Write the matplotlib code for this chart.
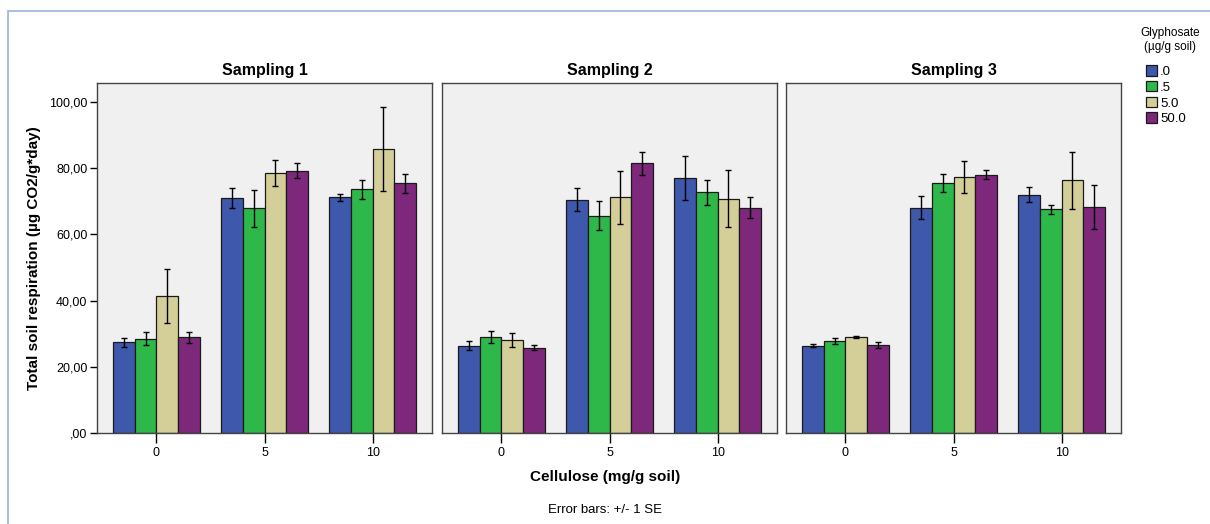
import matplotlib
matplotlib.use("Agg")
import matplotlib.pyplot as plt
from matplotlib.patches import Rectangle
from matplotlib.ticker import FuncFormatter
import numpy as np

plt.rcParams['font.family'] = ['Liberation Sans', 'DejaVu Sans']

# Data
samplings = ["Sampling 1", "Sampling 2", "Sampling 3"]
cellulose = ["0", "5", "10"]
glyphosate = [".0", ".5", "5.0", "50.0"]
colors = ["#3e58ac", "#2fb84a", "#d4cf98", "#7e287c"]

# means[sampling][glyphosate level] -> values for cellulose 0, 5, 10
means_s1 = [[27.4, 71.0, 71.2], [28.5, 67.8, 73.6], [41.3, 78.5, 85.7], [28.9, 79.2, 75.4]]
means_s2 = [[26.4, 70.5, 77.1], [28.9, 65.6, 72.7], [28.0, 71.2, 70.8], [25.7, 81.4, 68.1]]
means_s3 = [[26.4, 68.1, 72.0], [27.8, 75.5, 67.5], [29.0, 77.2, 76.3], [26.6, 78.0, 68.3]]
se_s1 = [[1.3, 2.9, 1.1], [2.0, 5.6, 2.8], [8.2, 3.9, 12.7], [1.7, 2.3, 2.9]]
se_s2 = [[1.3, 3.6, 6.7], [1.8, 4.4, 3.8], [2.1, 8.0, 8.6], [0.75, 3.4, 3.2]]
se_s3 = [[0.5, 3.5, 2.3], [0.9, 2.7, 1.3], [0.4, 4.8, 8.6], [1.0, 1.4, 6.7]]

means = [means_s1, means_s2, means_s3]
errors = [se_s1, se_s2, se_s3]

fig = plt.figure(figsize=(12.1, 5.24), dpi=100)

# Light blue outer frame
fig.patches.append(Rectangle((8 / 1210, -0.01), 1.2, 1 - 11 / 524 + 0.01,
                             transform=fig.transFigure, fill=False,
                             edgecolor="#9ab4d8", linewidth=1.2))

lefts = [97, 442, 786]
width_px = 335
bottom = 1 - 433 / 524
height = (433 - 83) / 524
bar_w = 0.2
x = np.arange(len(cellulose))

handles = []
for i, name in enumerate(samplings):
    ax = fig.add_axes([lefts[i] / 1210, bottom, width_px / 1210, height])
    ax.set_facecolor("#f0f0f0")
    for j, lev in enumerate(glyphosate):
        pos = x + (j - 1.5) * bar_w
        b = ax.bar(pos, means[i][j], bar_w, color=colors[j],
                   edgecolor="#1a1a1a", linewidth=0.9, label=lev, zorder=2)
        ax.errorbar(pos, means[i][j], yerr=errors[i][j], fmt="none",
                    ecolor="black", elinewidth=1, capsize=2.5, capthick=1, zorder=3)
        if i == 0:
            handles.append(b)
    ax.set_xlim(-0.55, 2.55)
    ax.set_ylim(0, 105.7)
    ax.set_xticks(x)
    ax.set_xticklabels(cellulose, fontsize=9)
    ax.tick_params(axis="x", length=7, width=1, direction="out", pad=3)
    for s in ax.spines.values():
        s.set_color("#444444")
        s.set_linewidth(1)
    ax.set_title(name, fontsize=11.5, fontweight="bold", pad=6)
    if i == 0:
        ax.set_yticks([0, 20, 40, 60, 80, 100])
        ax.yaxis.set_major_formatter(FuncFormatter(
            lambda v, p: ",00" if v == 0 else f"{v:.2f}".replace(".", ",")))
        ax.tick_params(axis="y", length=5, width=1, labelsize=9, pad=2)
        ax.set_ylabel("Total soil respiration (µg CO2/g*day)", fontsize=11,
                      fontweight="bold", labelpad=6)
    else:
        ax.set_yticks([])

fig.text(0.5, 1 - 477 / 524, "Cellulose (mg/g soil)", ha="center", va="center",
         fontsize=11, fontweight="bold")
fig.text(0.5, 1 - 510 / 524, "Error bars: +/- 1 SE", ha="center", va="center",
         fontsize=9.5)

# Legend title drawn separately to leave the gap SPSS uses
fig.text(1170 / 1210, 1 - 40 / 524, "Glyphosate\n(µg/g soil)", ha="center",
         va="center", fontsize=8.5, multialignment="center", linespacing=1.2)
fig.legend(handles, glyphosate, loc="upper left",
           bbox_to_anchor=(1137 / 1210, 1 - 56 / 524),
           frameon=False, fontsize=9.5,
           handlelength=0.85, handleheight=0.85, handletextpad=0.2,
           labelspacing=0.22, borderpad=0.2)

fig.savefig("out.png", dpi=100)
